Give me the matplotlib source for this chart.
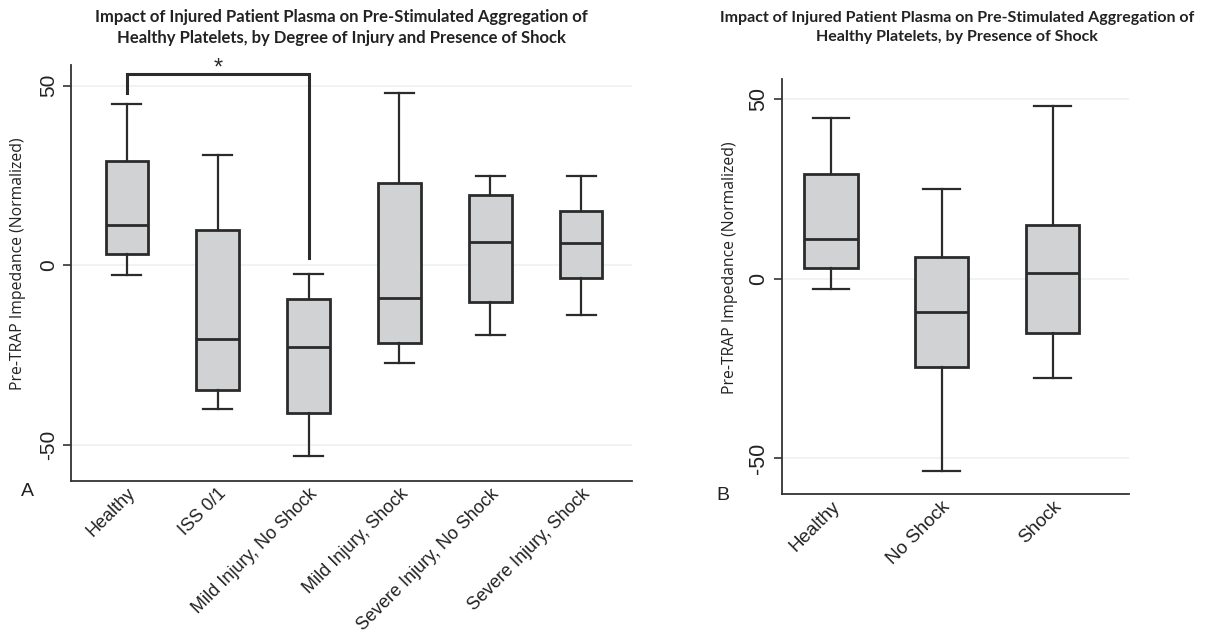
import numpy as np
import matplotlib.pyplot as plt

# panel A data (box stats)
groups_a = ['Healthy', 'ISS 0/1', 'Mild Injury, No Shock', 'Mild Injury, Shock',
            'Severe Injury, No Shock', 'Severe Injury, Shock']
whishi_a = [45.0, 30.8, -2.5, 48.0, 24.9, 24.7]
q3_a = [29.0, 9.7, -9.3, 22.8, 19.5, 15.1]
med_a = [11.2, -20.4, -22.7, -9.1, 6.6, 6.1]
q1_a = [3.2, -34.7, -41.1, -21.5, -10.2, -3.6]
whislo_a = [-2.7, -40.0, -53.1, -27.3, -19.4, -13.8]

# panel B data
groups_b = ['Healthy', 'No Shock', 'Shock']
whishi_b = [44.9, 25.0, 48.3]
q3_b = [29.1, 6.1, 15.1]
med_b = [11.0, -9.3, 1.75]
q1_b = [3.05, -24.6, -15.0]
whislo_b = [-2.8, -53.7, -27.6]

# significance bracket between Healthy and Mild Injury, No Shock
sig_top = 53.3
sig_left_end = 48.0
sig_right_end = 1.9

edge = '#2b2b2b'
fill = '#d0d2d3'
grid_c = '#eef1f1'


def make_stats(lo, q1, med, q3, hi, labels):
    stats = []
    for i in range(len(labels)):
        stats.append(dict(whislo=lo[i], q1=q1[i], med=med[i], q3=q3[i],
                          whishi=hi[i], label=labels[i], fliers=[]))
    return stats


def style_axes(ax, labels, xlim, tick_fs, lab_fs, ylab_x, ylab_y):
    ax.set_xlim(*xlim)
    ax.set_ylim(-60, 55.7)
    ax.set_yticks([-50, 0, 50])
    ax.set_yticklabels(['-50', '0', '50'], rotation=90, va='center',
                       fontsize=tick_fs, family='Liberation Sans', color='#222222')
    ax.grid(True, axis='y', color=grid_c, linewidth=1.2)
    ax.set_axisbelow(True)
    for s in ['top', 'right']:
        ax.spines[s].set_visible(False)
    for s in ['left', 'bottom']:
        ax.spines[s].set_color('#333333')
        ax.spines[s].set_linewidth(1.3)
    ax.tick_params(axis='y', length=6, width=1.2, color='#333333', pad=3)
    ax.tick_params(axis='x', length=0, pad=3)
    ax.set_xticks(np.arange(1, len(labels) + 1))
    ax.set_xticklabels(labels, rotation=45, ha='right', rotation_mode='anchor',
                       fontsize=lab_fs, family='Liberation Sans', color='#222222')
    ax.set_ylabel('Pre-TRAP Impedance (Normalized)', family='Open Sans',
                  fontsize=11.3, color='#222222')
    ax.yaxis.set_label_coords(ylab_x, ylab_y)


def draw_boxes(ax, stats, width, capw):
    ax.bxp(stats, widths=width, capwidths=capw, patch_artist=True,
           showfliers=False,
           boxprops=dict(facecolor=fill, edgecolor=edge, linewidth=2),
           medianprops=dict(color=edge, linewidth=2),
           whiskerprops=dict(color=edge, linewidth=1.6),
           capprops=dict(color=edge, linewidth=1.6))


fig = plt.figure(figsize=(12.18, 6.37), dpi=100)

ax1 = fig.add_axes([0.0583, 0.2449, 0.4606, 0.653])
draw_boxes(ax1, make_stats(whislo_a, q1_a, med_a, q3_a, whishi_a, groups_a), 0.47, 0.32)
style_axes(ax1, groups_a, (0.385, 6.56), 15, 13.0, -0.08, 0.522)

# bracket with star
ax1.plot([1, 1, 3, 3], [sig_left_end, sig_top, sig_top, sig_right_end],
         color=edge, linewidth=2.2, solid_joinstyle='miter', clip_on=False)
ax1.text(2.0, sig_top - 1.5, '*', ha='center', va='bottom', fontsize=17,
         family='Liberation Sans', color=edge)

ax2 = fig.add_axes([0.6418, 0.2245, 0.2851, 0.6515])
draw_boxes(ax2, make_stats(whislo_b, q1_b, med_b, q3_b, whishi_b, groups_b), 0.48, 0.33)
style_axes(ax2, groups_b, (0.556, 3.69), 15.5, 13.5, -0.125, 0.545)

fig.text(341 / 1218, 1 - 27.5 / 637,
         'Impact of Injured Patient Plasma on Pre-Stimulated Aggregation of\n'
         'Healthy Platelets, by Degree of Injury and Presence of Shock',
         ha='center', va='center', fontsize=12, fontweight='bold',
         family='Lato', color='#222222', linespacing=1.4)
fig.text(957 / 1218, 1 - 27.5 / 637,
         'Impact of Injured Patient Plasma on Pre-Stimulated Aggregation of\n'
         'Healthy Platelets, by Presence of Shock',
         ha='center', va='center', fontsize=11.5, fontweight='bold',
         family='Lato', color='#222222', linespacing=1.5)

fig.text(27 / 1218, 1 - 492 / 637, 'A', ha='center', va='center', fontsize=14,
         family='Liberation Sans', color='#222222')
fig.text(723 / 1218, 1 - 495 / 637, 'B', ha='center', va='center', fontsize=14,
         family='Liberation Sans', color='#222222')

fig.savefig('out.png', dpi=100, facecolor='white')
